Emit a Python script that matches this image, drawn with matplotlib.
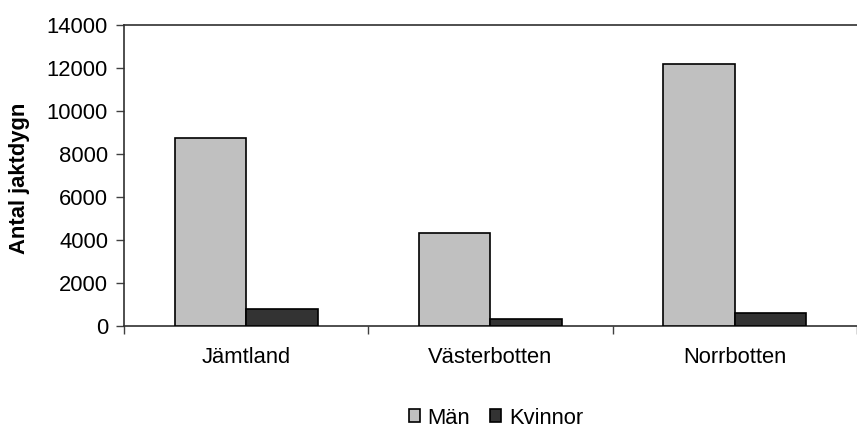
import matplotlib
matplotlib.use("Agg")
import matplotlib.pyplot as plt
import numpy as np

# Jaktdygn per län, fördelat på kön
lan = ["Jämtland", "Västerbotten", "Norrbotten"]
man = [8730, 4340, 12160]
kvinnor = [780, 310, 620]

FONT = ["Liberation Sans", "DejaVu Sans"]
plt.rcParams["font.family"] = FONT
plt.rcParams["font.size"] = 15.8

fig = plt.figure(figsize=(8.57, 4.28), dpi=100)
ax = fig.add_axes([124 / 857, 102 / 428, 733 / 857, 301.5 / 428])

x = np.arange(len(lan))
w = 0.293
ax.bar(x - w / 2, man, width=w, color="#c0c0c0", edgecolor="black", linewidth=1.2, label="Män", zorder=3)
ax.bar(x + w / 2, kvinnor, width=w, color="#333333", edgecolor="black", linewidth=1.2, label="Kvinnor", zorder=3)

ax.set_xlim(-0.5, 2.49)
ax.set_ylim(0, 14000)
ax.set_yticks(np.arange(0, 14001, 2000))
ax.set_xticks(x)
ax.set_xticklabels(lan)
ax.set_xticks(np.arange(-0.5, 3.0, 1.0), minor=True)
ax.tick_params(axis="x", which="major", length=0, pad=15)
ax.tick_params(axis="x", which="minor", length=5.5, width=1, color="#404040")
ax.tick_params(axis="y", length=5.5, width=1, color="#404040", pad=6)

for side in ("left", "bottom", "top"):
    ax.spines[side].set_color("#303030")
    ax.spines[side].set_linewidth(1.2)
ax.spines["right"].set_visible(False)

ax.set_ylabel("Antal jaktdygn", fontweight="bold")
ax.yaxis.set_label_coords(-0.128, 0.49)

fig.legend(loc="center", bbox_to_anchor=(496 / 857, 1 - 418 / 428), ncol=2,
           frameon=False, handlelength=0.5, handleheight=0.5,
           handletextpad=0.36, columnspacing=0.9, borderpad=0)

fig.savefig("out.png", dpi=100)
